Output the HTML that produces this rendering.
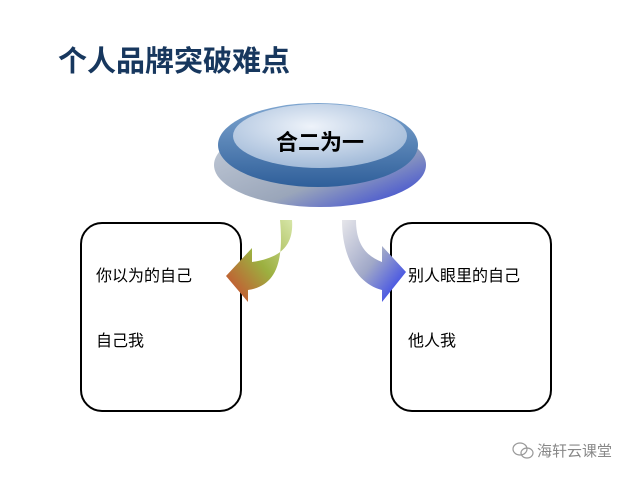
<!DOCTYPE html>
<html><head><meta charset="utf-8"><style>
body{margin:0;width:640px;height:480px;background:#fff;overflow:hidden;font-family:"Liberation Sans","Noto Sans CJK SC",sans-serif;position:relative}
.t{position:absolute;left:58px;top:38px;font-size:29px;font-weight:bold;color:#17375e}
.box{position:absolute;width:158px;height:186px;border:2px solid #000;border-radius:22px;top:222px}
.lbl{position:absolute;font-size:16px;color:#000}
</style></head><body>
<div class="t">个人品牌突破难点</div>
<div class="box" style="left:80px"></div>
<div class="box" style="left:390px"></div>
<svg width="640" height="480" style="position:absolute;left:0;top:0">
<defs>
<linearGradient id="rim" x1="0" y1="0" x2="1" y2="1"><stop offset="0" stop-color="#c8d0dc"/><stop offset="0.6" stop-color="#9aa6ba"/><stop offset="1" stop-color="#2a3ad8"/></linearGradient>
<linearGradient id="ring" x1="0" y1="0" x2="0" y2="1"><stop offset="0" stop-color="#7fa6d0"/><stop offset="1" stop-color="#2f5f9a"/></linearGradient>
<radialGradient id="top" cx="0.45" cy="0.35" r="0.7"><stop offset="0" stop-color="#eef3fa"/><stop offset="1" stop-color="#9cb6d6"/></radialGradient>
<linearGradient id="ga" x1="1" y1="0" x2="0" y2="1"><stop offset="0" stop-color="#d7e6a8"/><stop offset="0.5" stop-color="#9cb040"/><stop offset="1" stop-color="#d0402e"/></linearGradient>
<linearGradient id="gb" x1="0" y1="0" x2="1" y2="1"><stop offset="0" stop-color="#e6e6ea"/><stop offset="0.5" stop-color="#a0a8c8"/><stop offset="1" stop-color="#1e2ff0"/></linearGradient>
</defs>
<ellipse cx="320" cy="165" rx="106" ry="42" fill="url(#rim)"/>
<ellipse cx="318" cy="145" rx="100" ry="42" fill="url(#ring)"/>
<ellipse cx="320" cy="136" rx="87" ry="32" fill="url(#top)"/>
<text x="320" y="150" font-size="22" font-weight="bold" text-anchor="middle" font-family="Liberation Sans,Noto Sans CJK SC,sans-serif">合二为一</text>
<path d="M292 220 C294 246 280 258 252 262 L252 248 L226 276 L248 302 L248 290 C276 286 284 262 280 220 Z" fill="url(#ga)"/>
<path d="M342 220 C342 258 358 284 382 290 L382 302 L406 272 L382 246 L382 262 C366 256 356 244 356 220 Z" fill="url(#gb)"/>
<g transform="translate(520,449)" fill="none" stroke="#999" stroke-width="1.2"><ellipse cx="0" cy="0" rx="7" ry="6"/><ellipse cx="7" cy="4" rx="6" ry="5"/></g>
</svg>
<div class="lbl" style="left:96px;top:262px">你以为的自己</div>
<div class="lbl" style="left:96px;top:327px">自己我</div>
<div class="lbl" style="left:408px;top:262px">别人眼里的自己</div>
<div class="lbl" style="left:408px;top:327px">他人我</div>
<div class="lbl" style="left:537px;top:440px;color:#888;font-size:15px">海轩云课堂</div>
</body></html>
